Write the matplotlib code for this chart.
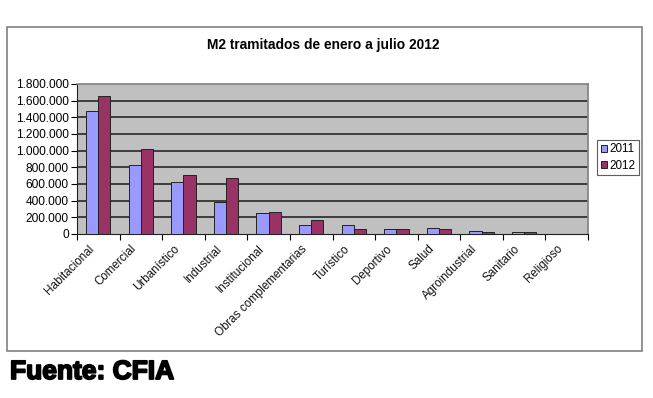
import matplotlib
matplotlib.use("Agg")
import matplotlib.pyplot as plt
from matplotlib.patches import Rectangle
from matplotlib.ticker import FuncFormatter, FixedLocator, NullLocator
import matplotlib.transforms as mtransforms
import matplotlib.patheffects as pe
import numpy as np

categories = ["Habitacional", "Comercial", "Urbanístico", "Industrial", "Institucional",
              "Obras complementarias", "Turístico", "Deportivo", "Salud",
              "Agroindustrial", "Sanitario", "Religioso"]
values_2011 = [1476000, 828000, 624000, 384000, 256000, 108000, 104000, 56000, 68000,
               32000, 24000, 0]
values_2012 = [1656000, 1024000, 712000, 676000, 264000, 168000, 56000, 56000, 56000,
               30000, 20000, 0]
series_labels = ["2011", "2012"]
title = "M2 tramitados de enero a julio 2012"
source = "Fuente: CFIA"

plt.rcParams['font.family'] = ['Liberation Sans', 'DejaVu Sans']

W, H = 653, 398
fig = plt.figure(figsize=(W / 100, H / 100), dpi=100)
fig.patch.set_facecolor('white')

# outer chart frame
fig.patches.append(Rectangle((7 / W, 1 - 351 / H), 635 / W, 324 / H,
                             transform=fig.transFigure, fill=False,
                             edgecolor='#808080', linewidth=1.2))

ax = fig.add_axes([77 / W, 1 - 234 / H, 511 / W, 150 / H])
ax.set_facecolor('#C0C0C0')

x = np.arange(len(categories))
bw = 0.286
ax.bar(x - bw / 2, values_2011, bw, color='#9999FF', edgecolor='#222222',
       linewidth=0.7, label=series_labels[0], zorder=3)
ax.bar(x + bw / 2, values_2012, bw, color='#993366', edgecolor='#222222',
       linewidth=0.7, label=series_labels[1], zorder=3)

ax.set_ylim(0, 1800000)
ax.set_xlim(-0.5, len(categories) - 0.5)
yt = np.arange(0, 1800001, 200000)
ax.set_yticks(yt)
ax.yaxis.set_major_formatter(FuncFormatter(lambda v, p: f"{int(v):,}".replace(",", ".")))
for v in yt[1:-1]:
    ax.axhline(v, color='#1a1a1a', linewidth=1.1, zorder=1)

ax.xaxis.set_major_locator(FixedLocator(np.arange(-0.5, len(categories), 1.0)))
ax.xaxis.set_major_formatter(FuncFormatter(lambda v, p: ""))
ax.xaxis.set_minor_locator(NullLocator())
ax.tick_params(axis='x', which='major', length=4, width=0.8, direction='out', color='black')
ax.tick_params(axis='y', length=4, width=0.8, direction='out', labelsize=8.6, pad=2)

# category labels, rotated, placed at each category centre
trans = mtransforms.blended_transform_factory(ax.transData, ax.transAxes)
offset = mtransforms.ScaledTranslation(-6 / 100, -13 / 100, fig.dpi_scale_trans)
for xi, cat in zip(x, categories):
    ax.text(xi, 0, cat, transform=trans + offset, rotation=45, ha='right',
            va='center', rotation_mode='anchor', fontsize=8.4, color='#111111',
            clip_on=False)

for s in ['top', 'right']:
    ax.spines[s].set_color('#808080')
    ax.spines[s].set_linewidth(1.2)
ax.spines['left'].set_color('#222222')
ax.spines['bottom'].set_color('#222222')

fig.text(323 / W, 1 - 45 / H, title, ha='center', va='center',
         fontsize=9.9, fontweight='bold')

leg = ax.legend(loc='upper left', bbox_to_anchor=(597 / W, 1 - 140 / H),
                bbox_transform=fig.transFigure, fontsize=8.4, frameon=True,
                fancybox=False, edgecolor='#333333', handlelength=0.55,
                handleheight=0.55, handletextpad=0.25, borderpad=0.3,
                labelspacing=0.35, borderaxespad=0)
leg.get_frame().set_linewidth(0.8)

fig.text(10 / W, 1 - 372 / H, source, ha='left', va='center',
         fontsize=19, fontweight='bold',
         path_effects=[pe.withStroke(linewidth=1.3, foreground='black')])

fig.savefig("out.png", dpi=100)
